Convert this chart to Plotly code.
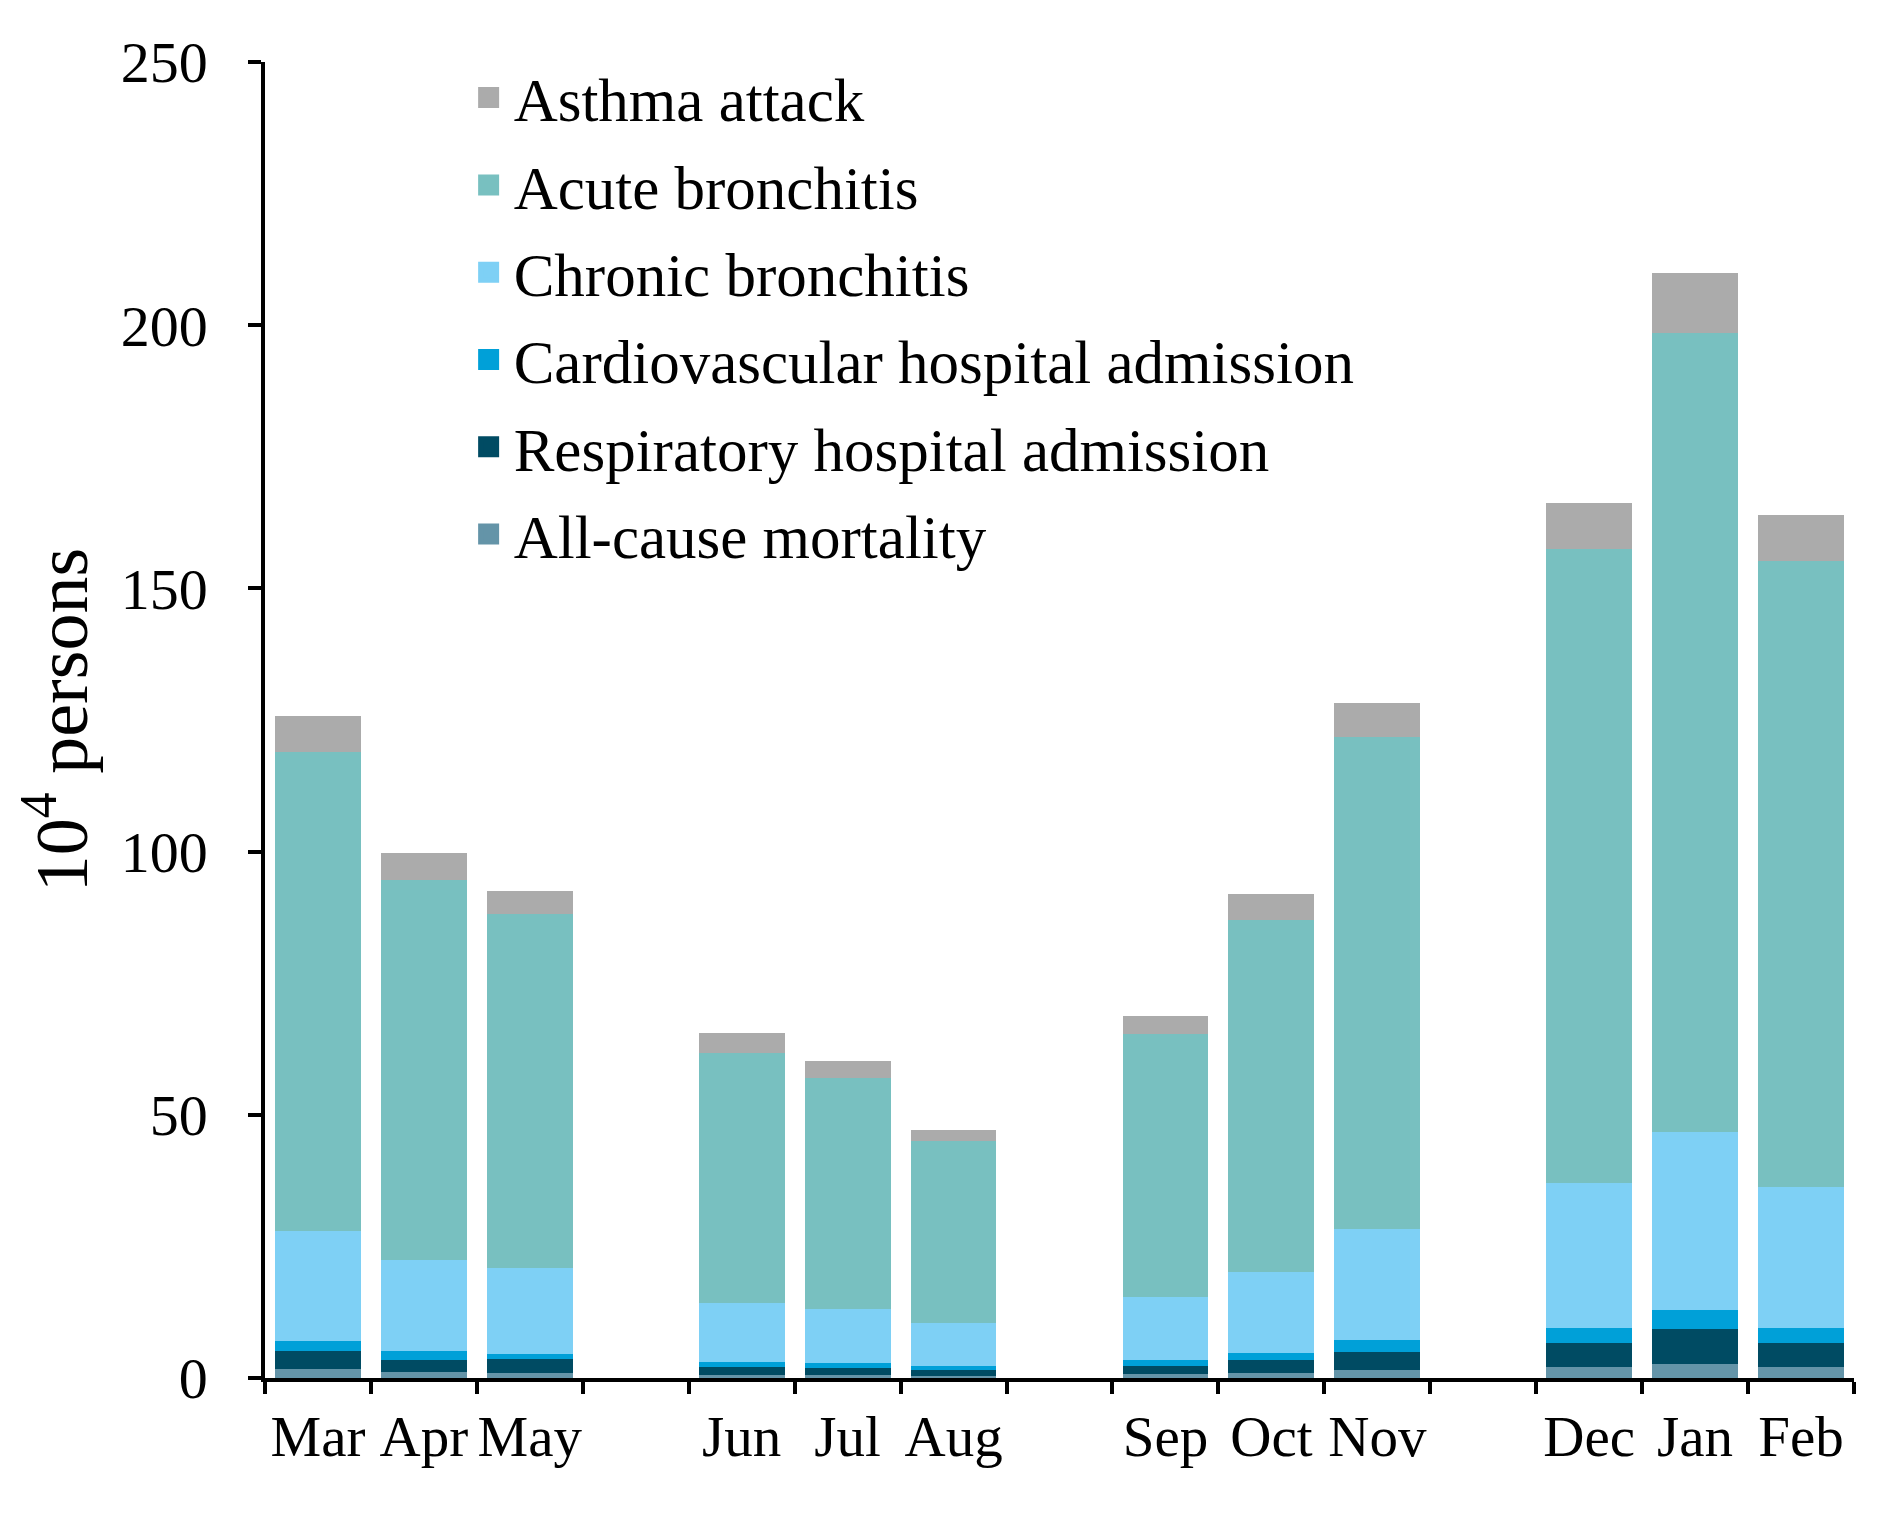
import plotly.graph_objects as go

# ---- data (10^4 persons) ----
months = ["Mar", "Apr", "May", "Jun", "Jul", "Aug", "Sep", "Oct", "Nov", "Dec", "Jan", "Feb"]
category_order = ["Mar", "Apr", "May", " ", "Jun", "Jul", "Aug", "  ", "Sep", "Oct", "Nov", "   ", "Dec", "Jan", "Feb"]

all_cause_mortality = [1.7, 1.1, 0.95, 0.6, 0.5, 0.4, 0.7, 1.0, 1.6, 2.1, 2.6, 2.1]
respiratory_admission = [3.4, 2.4, 2.7, 1.4, 1.4, 1.1, 1.6, 2.5, 3.4, 4.6, 6.8, 4.6]
cardiovascular_admission = [1.9, 1.7, 0.9, 1.1, 1.0, 0.7, 1.1, 1.2, 2.3, 2.8, 3.5, 2.8]
chronic_bronchitis = [20.9, 17.3, 16.35, 11.2, 10.3, 8.2, 12.0, 15.5, 21.1, 27.5, 33.9, 26.8]
acute_bronchitis = [91.1, 72.2, 67.2, 47.5, 43.8, 34.6, 50.0, 66.8, 93.3, 120.4, 151.7, 119.0]
asthma_attack = [6.8, 5.0, 4.5, 3.8, 3.2, 2.2, 3.4, 5.0, 6.6, 8.8, 11.5, 8.6]

series_names = ["All-cause mortality", "Respiratory hospital admission",
                "Cardiovascular hospital admission", "Chronic bronchitis",
                "Acute bronchitis", "Asthma attack"]
series_values = [all_cause_mortality, respiratory_admission, cardiovascular_admission,
                 chronic_bronchitis, acute_bronchitis, asthma_attack]
series_colors = ["#6494A8", "#004B63", "#00A0D8", "#7ED0F5", "#78C0C0", "#ABABAB"]

y_ticks = [0, 50, 100, 150, 200, 250]

FONT = "Liberation Serif, Times New Roman, serif"

fig = go.Figure()
for name, vals, col in zip(series_names, series_values, series_colors):
    fig.add_trace(go.Bar(x=months, y=vals, name=name, marker=dict(color=col, line=dict(width=0)),
                         showlegend=False, legendgroup=name))

# legend entries (top to bottom: Asthma ... All-cause)
for name, col in zip(series_names[::-1], series_colors[::-1]):
    fig.add_trace(go.Scatter(x=[None], y=[None], mode="markers", name=name, legendgroup=name,
                             marker=dict(symbol="square", size=28, color=col,
                                         line=dict(width=5, color=col))))

fig.update_layout(
    width=1881, height=1515,
    barmode="stack", bargap=0.19,
    plot_bgcolor="white", paper_bgcolor="white",
    margin=dict(l=257, r=35, t=54, b=145),
    font=dict(family=FONT, size=56, color="black"),
    hovermode=False,
    legend=dict(x=0.125, y=1.008, xanchor="left", yanchor="top", bgcolor="rgba(0,0,0,0)",
                font=dict(size=61), traceorder="grouped", tracegroupgap=5,
                itemsizing="trace", itemwidth=40),
    xaxis=dict(type="category", categoryorder="array", categoryarray=category_order,
               range=[-0.5, 14.5], showgrid=False, showline=True, linecolor="black",
               linewidth=3.5, ticks="outside", tickson="boundaries", ticklen=12,
               tickwidth=3.5, tickcolor="black", tickfont=dict(size=57), tickangle=0,
               ticklabelstandoff=6, zeroline=False),
    yaxis=dict(range=[0, 250], tickvals=y_ticks, showgrid=False, showline=True,
               linecolor="black", linewidth=3.5, ticks="outside", ticklen=13, tickwidth=3.5,
               tickcolor="black", tickfont=dict(size=58), zeroline=False,
               ticklabelstandoff=29,
               title=dict(text="10<sup>4</sup> persons", font=dict(size=74), standoff=10)),
)

fig.write_html("out.html")
